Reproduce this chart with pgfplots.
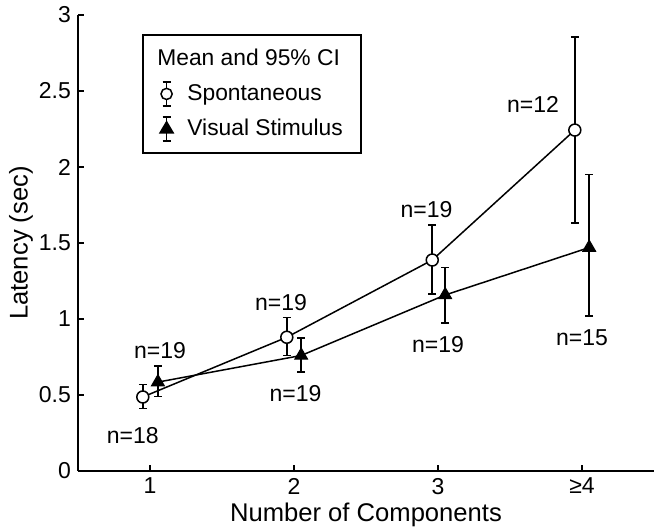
\documentclass[border=0pt]{standalone}
\usepackage{fontspec}
\setmainfont{Liberation Sans}
\usepackage{pgfplots}
\pgfplotsset{compat=1.18}
\begin{document}
\begin{tikzpicture}
\begin{axis}[
  scale only axis,
  width=288pt, height=228pt,
  xmin=0.5, xmax=4.5, ymin=0, ymax=3,
  axis lines*=left,
  axis line style={line width=1pt},
  major tick style={line width=0.8pt, black},
  major tick length=3pt,
  tick align=inside,
  xtick={1,2,3,4}, xticklabels={1,2,3,≥4},
  ytick={0,0.5,1,1.5,2,2.5,3},
  yticklabels={0,0.5,1,1.5,2,2.5,3},
  tick label style={font=\fontsize{11.5}{13}\selectfont},
  /pgf/number format/assume math mode=true,
  xlabel={Number of Components},
  ylabel={Latency (sec)},
  label style={font=\fontsize{12.8}{15}\selectfont},
  x label style={at={(rel axis cs:0.5,0)}, anchor=center, yshift=-22pt},
  y label style={at={(axis description cs:-0.099,0.5)}, anchor=center},
  legend cell align=left,
  legend style={at={(rel axis cs:0.1111,0.958)}, anchor=north west,
    font=\fontsize{11.4}{13.5}\selectfont, draw=black, line width=0.8pt,
    inner xsep=7pt, inner ysep=5pt, row sep=4pt},
]
\coordinate (bl) at (rel axis cs:0,0);
\coordinate (tr) at (rel axis cs:1,1);
\addlegendimage{empty legend}
\addlegendentry{\hspace*{-15pt}Mean and 95\% CI\rule[-4pt]{0pt}{1pt}}
\addlegendimage{legend image code/.code={
  \path (0pt,0pt) (12.5pt,0pt);
  \draw[line width=0.75pt] (4.5pt,-6pt)--(4.5pt,6pt) (2.5pt,-6pt)--(6.5pt,-6pt) (2.5pt,6pt)--(6.5pt,6pt);
  \draw[line width=0.75pt, fill=white] (4.5pt,0pt) circle (2.8pt);}}
\addlegendentry{Spontaneous}
\addlegendimage{legend image code/.code={
  \path (0pt,0pt) (12.5pt,0pt);
  \draw[line width=0.75pt] (4.5pt,-6pt)--(4.5pt,6pt) (2.5pt,-6pt)--(6.5pt,-6pt) (2.5pt,6pt)--(6.5pt,6pt);
  \fill (4.5pt,3.6pt)--(1.3pt,-1.8pt)--(7.7pt,-1.8pt)--cycle;}}
\addlegendentry{Visual Stimulus}

\addplot[black, line width=0.75pt, mark=*, mark size=3pt,
  mark options={fill=white, line width=0.75pt},
  error bars/.cd, y dir=both, y explicit,
  error bar style={line width=0.75pt},
  error mark options={rotate=90, mark size=2pt, line width=0.75pt}]
  coordinates {
  (0.95,0.487) += (0,0.083) -= (0,0.077)
  (1.95,0.88) += (0,0.13) -= (0,0.12)
  (2.96,1.388) += (0,0.23) -= (0,0.224)
  (3.95,2.243) += (0,0.612) -= (0,0.611)
  };
\addplot[black, line width=0.75pt, mark=triangle*, mark size=3.7pt,
  mark options={fill=black, line width=0.5pt},
  error bars/.cd, y dir=both, y explicit,
  error bar style={line width=0.75pt},
  error mark options={rotate=90, mark size=2pt, line width=0.75pt}]
  coordinates {
  (1.055,0.585) += (0,0.105) -= (0,0.095)
  (2.05,0.76) += (0,0.115) -= (0,0.11)
  (3.05,1.158) += (0,0.182) -= (0,0.184)
  (4.05,1.47) += (0,0.48) -= (0,0.45)
  };
\begin{scope}[every node/.style={font=\fontsize{11.5}{13}\selectfont}]
\node at (axis cs:0.88,0.23) {n=18};
\node at (axis cs:1.07,0.79) {n=19};
\node at (axis cs:1.91,1.11) {n=19};
\node at (axis cs:2.01,0.51) {n=19};
\node at (axis cs:2.92,1.72) {n=19};
\node at (axis cs:3.0,0.83) {n=19};
\node at (axis cs:3.66,2.41) {n=12};
\node at (axis cs:4.0,0.875) {n=15};
\end{scope}
\end{axis}
\pgfresetboundingbox
\path[use as bounding box] ([xshift=-39pt,yshift=-29.5pt]bl) rectangle ([yshift=7.5pt]tr);
\end{tikzpicture}
\end{document}
